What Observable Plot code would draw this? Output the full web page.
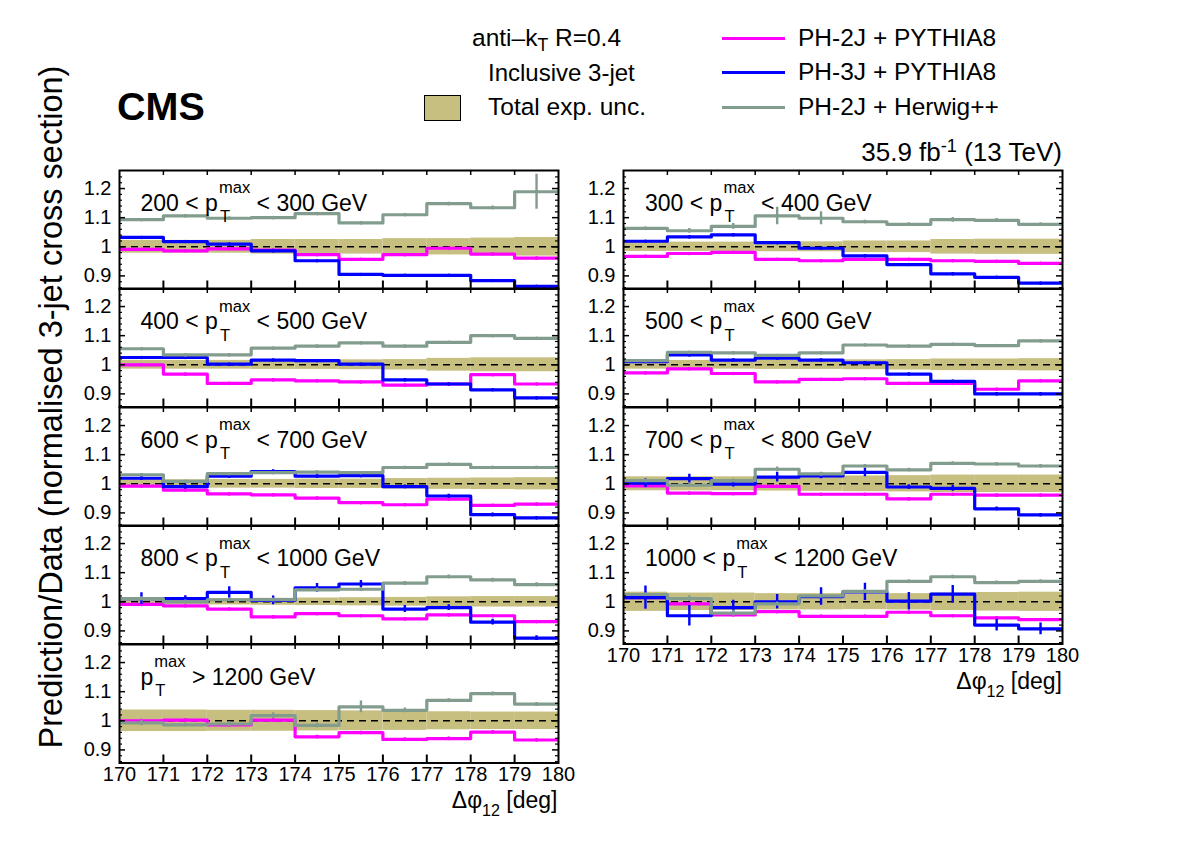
<!DOCTYPE html>
<html><head><meta charset="utf-8">
<script src="https://cdn.jsdelivr.net/npm/d3@7"></script>
<script src="https://cdn.jsdelivr.net/npm/@observablehq/plot@0.6"></script>
<style>
body{margin:0;background:#fff;}
#root{position:relative;width:1182px;height:846px;font-family:"Liberation Sans",Arial,Helvetica,sans-serif;color:#000;overflow:hidden;background:#fff}
.t{position:absolute;white-space:nowrap;line-height:1}
</style></head><body><div id="root"></div>
<script>
// ---------- data ----------
const binLow = [170,171,172,173,174,175,176,177,178,179];
const edges = [170,171,172,173,174,175,176,177,178,179,180];
const xTickValues = [170,171,172,173,174,175,176,177,178,179,180];
const xInnerTicks = [171,172,173,174,175,176,177,178,179];
const yTickValues = [0.9,1.0,1.1,1.2];
const yMinorTicks = [0.86,0.88,0.92,0.94,0.96,0.98,1.02,1.04,1.06,1.08,1.12,1.14,1.16,1.18,1.22,1.24];
const ptLow = ["200","300","400","500","600","700","800","1000","1200"];
const ptHigh = ["300","400","500","600","700","800","1000","1200",null];
const panelCol = [0,1,0,1,0,1,0,1,0];
const panelRow = [0,0,1,1,2,2,3,3,4];

// PH-2J + PYTHIA8 (magenta)
const ph2jPythia8 = [
 [0.991,0.986,0.993,0.989,0.973,0.957,0.973,0.995,0.975,0.961],
 [0.967,0.977,0.981,0.957,0.952,0.957,0.957,0.952,0.950,0.943],
 [1.000,0.968,0.936,0.948,0.945,0.941,0.930,0.934,0.966,0.934],
 [0.972,0.986,0.970,0.941,0.950,0.952,0.936,0.936,0.916,0.945],
 [0.992,0.978,0.965,0.962,0.951,0.935,0.928,0.947,0.926,0.930],
 [0.993,0.968,0.966,0.991,0.964,0.964,0.948,0.964,0.961,0.961],
 [0.991,0.986,0.975,0.948,0.959,0.952,0.941,0.955,0.952,0.932],
 [1.014,0.993,0.955,0.966,0.950,0.950,0.964,0.952,0.945,0.939],
 [1.000,1.002,0.986,1.002,0.945,0.959,0.936,0.939,0.961,0.934]
];
const ph2jPythia8Err = [0.003,0.003,0.003,0.003,0.003,0.003,0.003,0.004,0.005];
// PH-3J + PYTHIA8 (blue)
const ph3jPythia8 = [
 [1.032,1.018,1.009,0.986,0.952,0.905,0.902,0.902,0.884,0.864],
 [1.019,1.034,1.041,1.014,0.995,0.969,0.939,0.907,0.895,0.875],
 [1.025,1.025,1.002,1.016,1.014,1.002,0.948,0.934,0.914,0.886],
 [1.011,1.034,1.016,1.023,1.016,1.007,0.968,0.943,0.900,0.900],
 [1.019,0.990,1.026,1.042,1.026,1.028,0.990,0.958,0.894,0.883],
 [1.002,1.018,0.999,1.023,1.027,1.039,0.989,0.984,0.914,0.893],
 [1.011,1.011,1.032,1.005,1.048,1.061,0.975,0.980,0.930,0.875],
 [1.014,0.952,0.980,1.000,1.018,1.034,1.002,1.026,0.920,0.907],
 null
];
const ph3jPythia8Err = [
 [0.003,0.003,0.003,0.003,0.003,0.003,0.003,0.003,0.003,0.003],
 [0.003,0.003,0.003,0.003,0.003,0.003,0.003,0.003,0.003,0.003],
 [0.003,0.003,0.003,0.003,0.003,0.003,0.003,0.003,0.003,0.003],
 [0.004,0.004,0.004,0.004,0.004,0.004,0.004,0.004,0.004,0.004],
 [0.006,0.008,0.006,0.006,0.005,0.005,0.006,0.006,0.006,0.005],
 [0.015,0.015,0.010,0.017,0.010,0.015,0.008,0.010,0.006,0.005],
 [0.020,0.010,0.020,0.015,0.015,0.012,0.012,0.010,0.010,0.008],
 [0.040,0.035,0.025,0.025,0.030,0.030,0.030,0.030,0.020,0.020],
 null
];
// PH-2J + Herwig++ (grey-green)
const ph2jHerwig = [
 [1.093,1.106,1.098,1.100,1.114,1.082,1.110,1.148,1.134,1.189],
 [1.063,1.055,1.070,1.106,1.098,1.086,1.077,1.093,1.091,1.077],
 [1.055,1.034,1.034,1.057,1.064,1.075,1.064,1.077,1.100,1.091],
 [1.014,1.043,1.041,1.032,1.041,1.068,1.064,1.070,1.066,1.082],
 [1.031,1.008,1.035,1.038,1.040,1.038,1.056,1.067,1.056,1.056],
 [1.011,0.995,1.011,1.050,1.034,1.061,1.048,1.070,1.068,1.061],
 [1.011,1.000,1.007,1.007,1.041,1.043,1.064,1.086,1.075,1.059],
 [1.025,1.011,0.961,0.993,1.020,1.036,1.070,1.086,1.066,1.070],
 [0.993,0.986,0.989,1.018,0.984,1.048,1.036,1.070,1.093,1.057]
];
const ph2jHerwigErr = [
 [0.004,0.004,0.004,0.004,0.004,0.004,0.004,0.005,0.006,0.060],
 [0.005,0.008,0.010,0.030,0.022,0.005,0.005,0.008,0.006,0.005],
 [0.003,0.003,0.003,0.003,0.003,0.003,0.003,0.003,0.003,0.003],
 [0.003,0.003,0.003,0.003,0.003,0.003,0.003,0.003,0.003,0.003],
 [0.004,0.004,0.004,0.004,0.004,0.004,0.004,0.004,0.004,0.004],
 [0.005,0.005,0.005,0.008,0.006,0.005,0.005,0.005,0.005,0.005],
 [0.006,0.006,0.006,0.006,0.006,0.006,0.006,0.006,0.006,0.006],
 [0.006,0.010,0.010,0.006,0.006,0.006,0.005,0.005,0.005,0.005],
 [0.010,0.006,0.008,0.010,0.008,0.020,0.008,0.006,0.006,0.006]
];
// Total experimental uncertainty (half-width of band around 1)
const totalExpUnc = [
 [0.022,0.022,0.022,0.025,0.025,0.025,0.028,0.028,0.030,0.032],
 [0.016,0.016,0.016,0.017,0.017,0.020,0.020,0.025,0.026,0.026],
 [0.015,0.015,0.015,0.016,0.016,0.017,0.018,0.022,0.024,0.024],
 [0.015,0.015,0.015,0.016,0.016,0.017,0.018,0.020,0.020,0.021],
 [0.014,0.014,0.015,0.015,0.016,0.016,0.018,0.019,0.020,0.021],
 [0.024,0.024,0.024,0.025,0.026,0.027,0.028,0.030,0.030,0.030],
 [0.010,0.010,0.011,0.012,0.013,0.014,0.015,0.017,0.018,0.018],
 [0.033,0.030,0.030,0.028,0.028,0.027,0.028,0.030,0.032,0.033],
 [0.037,0.037,0.036,0.036,0.035,0.034,0.033,0.031,0.030,0.030]
];
const seriesNames = ["PH-2J + PYTHIA8","PH-3J + PYTHIA8","PH-2J + Herwig++"];
const seriesColors = ["#ff00ff","#0000ff","#829d8e"];
const bandColor = "#c7bf80";

// ---------- layout ----------
const root = document.getElementById("root");
const FONT = '"Liberation Sans", Arial, Helvetica, sans-serif';
const W = 439, H = 118.5;
const colX = [118.5, 623];
const rowTop0 = 169.5;
const ML = 48, MR = 16, MT = 6;

function addText(html, x, baseline, size, opts = {}) {
  const d = document.createElement("div");
  d.className = "t";
  d.style.fontSize = size + "px";
  if (opts.weight) d.style.fontWeight = opts.weight;
  d.style.top = (baseline - 0.8465 * size) + "px";
  if (opts.anchor === "end") { d.style.right = (1182 - x) + "px"; }
  else d.style.left = x + "px";
  d.innerHTML = html;
  root.appendChild(d);
  return d;
}
function ptHTML(f) {
  const s = f * 0.72;
  return `p<span style="display:inline-block;position:relative;width:${(s*1.95).toFixed(1)}px;height:1px;">` +
    `<span style="position:absolute;left:1px;bottom:${(0.6*f).toFixed(1)}px;font-size:${s}px;line-height:1">max</span>` +
    `<span style="position:absolute;left:2px;bottom:${(-0.66*f).toFixed(1)}px;font-size:${s}px;line-height:1">T</span></span>`;
}
function stepData(vals) {
  return edges.map((e, i) => ({x: e, y: vals[Math.min(i, vals.length - 1)]}));
}
function centerData(vals, errs) {
  return binLow.map((b, i) => ({x: b + 0.5, y: vals[i], e: Array.isArray(errs) ? errs[i] : errs}));
}

for (let k = 0; k < 9; k++) {
  const col = panelCol[k], row = panelRow[k];
  const isBottom = (col === 0 && row === 4) || (col === 1 && row === 3);
  const MB = isBottom ? 40 : 6;
  const band = binLow.map((b, i) => ({x1: b, x2: edges[i + 1], u: totalExpUnc[k][i]}));
  const series = [ph2jPythia8[k], ph3jPythia8[k], ph2jHerwig[k]];
  const errs = [ph2jPythia8Err[k], ph3jPythia8Err[k], ph2jHerwigErr[k]];
  const marks = [
    Plot.rect(band, {x1: "x1", x2: "x2", y1: d => 1 - d.u, y2: d => 1 + d.u, fill: bandColor, clip: true}),
    Plot.ruleY([1], {stroke: "black", strokeWidth: 1.6, strokeDasharray: "7,5"})
  ];
  series.forEach((vals, s) => {
    if (!vals) return;
    const c = centerData(vals, errs[s]);
    marks.push(Plot.line(stepData(vals), {x: "x", y: "y", curve: "step-after", stroke: seriesColors[s], strokeWidth: 3.2, clip: true}));
    marks.push(Plot.ruleX(c, {x: "x", y1: d => d.y - d.e, y2: d => d.y + d.e, stroke: seriesColors[s], strokeWidth: 2.4, clip: true}));
    marks.push(Plot.dot(c, {x: "x", y: "y", r: 1.8, fill: seriesColors[s], clip: true}));
  });
  marks.push(
    Plot.ruleX(xInnerTicks, {x: d => d, insetTop: H - 8, stroke: "black", strokeWidth: 2}),
    Plot.ruleX(xInnerTicks, {x: d => d, insetBottom: H - 5, stroke: "black", strokeWidth: 1.5}),
    Plot.ruleY(yTickValues, {y: d => d, insetRight: W - 6, stroke: "black", strokeWidth: 1.5}),
    Plot.ruleY(yTickValues, {y: d => d, insetLeft: W - 6, stroke: "black", strokeWidth: 1.5}),
    Plot.ruleY(yMinorTicks, {y: d => d, insetRight: W - 3, stroke: "black", strokeWidth: 1.2}),
    Plot.ruleY(yMinorTicks, {y: d => d, insetLeft: W - 3, stroke: "black", strokeWidth: 1.2}),
    Plot.frame({stroke: "black", strokeWidth: 2})
  );
  const svg = Plot.plot({
    width: ML + W + MR, height: MT + H + MB,
    marginLeft: ML, marginRight: MR, marginTop: MT, marginBottom: MB,
    x: {domain: [170, 180], ticks: isBottom ? xTickValues : [], tickSize: 0, tickPadding: 4, label: null, tickFormat: d => String(d), axis: isBottom ? "bottom" : null},
    y: {domain: [0.855, 1.262], ticks: yTickValues, tickSize: 0, tickPadding: 8, label: null, tickFormat: d => Math.abs(d - 1) < 1e-9 ? "1" : d.toFixed(1)},
    style: {background: "transparent", overflow: "visible", fontFamily: FONT, fontSize: "20px", color: "black"},
    marks
  });
  svg.style.position = "absolute";
  svg.style.left = (colX[col] - ML) + "px";
  svg.style.top = (rowTop0 + row * H - MT) + "px";
  root.appendChild(svg);

  // panel label
  const fx = colX[col] + 22, fb = rowTop0 + row * H + 41.5;
  const f = 23;
  const lab = ptHigh[k] ? `${ptLow[k]} &lt; ${ptHTML(f)} &lt; ${ptHigh[k]} GeV` : `${ptHTML(f)} &gt; ${ptLow[k]} GeV`;
  addText(lab, fx, fb, f);

  if (isBottom) {
    const right = colX[col] + W;
    const base = rowTop0 + (row + 1) * H + 46;
    addText(`&Delta;&phi;<span style="position:relative;top:0.5em;font-size:0.7em">12</span> [deg]`, right, base, 23, {anchor: "end"});
  }
}

// y title
const yt = document.createElement("div");
yt.className = "t";
yt.style.cssText = "position:absolute;left:51px;top:407px;font-size:32.5px;line-height:1;transform:translate(-50%,-50%) rotate(-90deg);white-space:nowrap";
yt.textContent = "Prediction/Data (normalised 3-jet cross section)";
root.appendChild(yt);

// CMS label
addText("CMS", 117, 120, 39.5, {weight: "bold"});

// legend (left block)
addText(`anti&ndash;k<span style="position:relative;top:0.3em;font-size:0.72em">T</span> R=0.4`, 472, 46.5, 24.5);
addText("Inclusive 3-jet", 488, 81, 24);
addText("Total exp. unc.", 488, 115.5, 24.5);
const box = document.createElement("div");
box.style.cssText = `position:absolute;left:424px;top:95px;width:37px;height:26px;background:${bandColor};border:1.5px solid #000;box-sizing:border-box`;
root.appendChild(box);
// legend (series)
const legY = [38, 72, 107];
seriesNames.forEach((n, i) => {
  const l = document.createElement("div");
  l.style.cssText = `position:absolute;left:722px;top:${legY[i] - 1.5}px;width:63px;height:3px;background:${seriesColors[i]}`;
  root.appendChild(l);
  addText(n, 798, legY[i] + 8.5, 24.5);
});
// lumi
addText(`35.9 fb<span style="position:relative;top:-0.5em;font-size:0.7em">-1</span> (13 TeV)`, 1062, 161, 26, {anchor: "end"});
</script></body></html>
